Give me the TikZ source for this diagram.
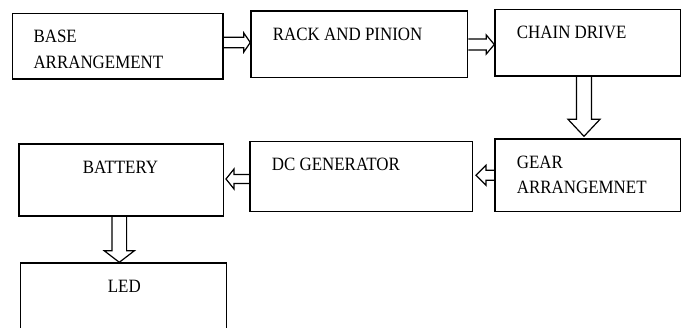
\documentclass[tikz,border=0pt]{standalone}
\usepackage{fontspec}
\setmainfont{Liberation Serif}[FakeStretch=0.9]
\usetikzlibrary{calc}
\tikzset{
  box/.style={draw, line width=1.4pt, inner sep=0pt},
  lbl/.style={anchor=base west, inner sep=0pt, font=\fontsize{18.8}{22}\selectfont},
  blk/.style={draw, line width=1.2pt, line join=miter}
}
\newcommand{\harr}[5]{\draw[blk] ($(#1)+(0,-#3)$) -- ($(#2)+({-1*(#5)},-#3)$) -- ($(#2)+({-1*(#5)},-#4)$) -- (#2) -- ($(#2)+({-1*(#5)},#4)$) -- ($(#2)+({-1*(#5)},#3)$) -- ($(#1)+(0,#3)$);}
\newcommand{\varr}[5]{\draw[blk] ($(#1)+(-#3,0)$) -- ($(#2)+(-#3,-#5)$) -- ($(#2)+(-#4,-#5)$) -- (#2) -- ($(#2)+(#4,-#5)$) -- ($(#2)+(#3,-#5)$) -- ($(#1)+(#3,0)$);}
\begin{document}
\begin{tikzpicture}[x=1pt,y=-1pt]
\useasboundingbox (0,0) rectangle (686,327);
\clip (0,0) rectangle (686,327);
% boxes
\node[box, minimum width=210.3pt, minimum height=65.7pt] (base) at (117.85,46.15) {};
\node[box, minimum width=216.7pt, minimum height=66.7pt] (rack) at (359.35,44.35) {};
\node[box, minimum width=185.7pt, minimum height=66.7pt] (chain) at (587.85,42.65) {};
\node[box, minimum width=185.7pt, minimum height=72.7pt] (gear) at (587.85,175.35) {};
\node[box, minimum width=222.3pt, minimum height=70pt] (dc) at (361.15,176.7) {};
\node[box, minimum width=204.3pt, minimum height=72pt] (battery) at (121.15,180) {};
\node[box, minimum width=206pt, minimum height=82pt] (led) at (123.7,304) {};
% labels
\node[lbl] (tbase1) at (33.3,42.3) {BASE};
\node[lbl] (tbase2) at (33.3,68.3) {ARRANGEMENT};
\node[lbl] (track) at (272.7,40) {RACK AND PINION};
\node[lbl] (tchain) at (516.7,38.3) {CHAIN DRIVE};
\node[lbl] (tgear1) at (516.7,168.3) {GEAR};
\node[lbl] (tgear2) at (516.7,193.3) {ARRANGEMNET};
\node[lbl] (tdc) at (271.7,170) {DC GENERATOR};
\node[lbl] (tbat) at (82.7,173.3) {BATTERY};
\node[lbl] (tled) at (107.7,292.7) {LED};
% connector end points
\coordinate (a1s) at (base.east |- 0,42.5);
\coordinate (a1t) at (rack.west |- 0,42.5);
\coordinate (a2s) at (rack.east |- 0,44.5);
\coordinate (a2t) at (chain.west |- 0,44.5);
\coordinate (a3s) at (chain.south -| 584,0);
\coordinate (a3t) at ($(gear.north -| 584,0)+(0,-2)$);
\coordinate (a4s) at (gear.west |- 0,175.3);
\coordinate (a4t) at ($(dc.east |- 0,175.3)+(3,0)$);
\coordinate (a5s) at (dc.west |- 0,179);
\coordinate (a5t) at ($(battery.east |- 0,179)+(2,0)$);
\coordinate (a6s) at (battery.south -| 119.3,0);
\coordinate (a6t) at (led.north -| 119.3,0);
% block arrows
\harr{a1s}{a1t}{5.2}{9.5}{6.5}
\harr{a2s}{a2t}{5.5}{9.5}{8}
\varr{a3s}{a3t}{7.5}{16}{17}
\harr{a4s}{a4t}{5}{10}{-10}
\harr{a5s}{a5t}{4.5}{10}{-8}
\varr{a6s}{a6t}{7.3}{15}{11.5}
\end{tikzpicture}
\end{document}
